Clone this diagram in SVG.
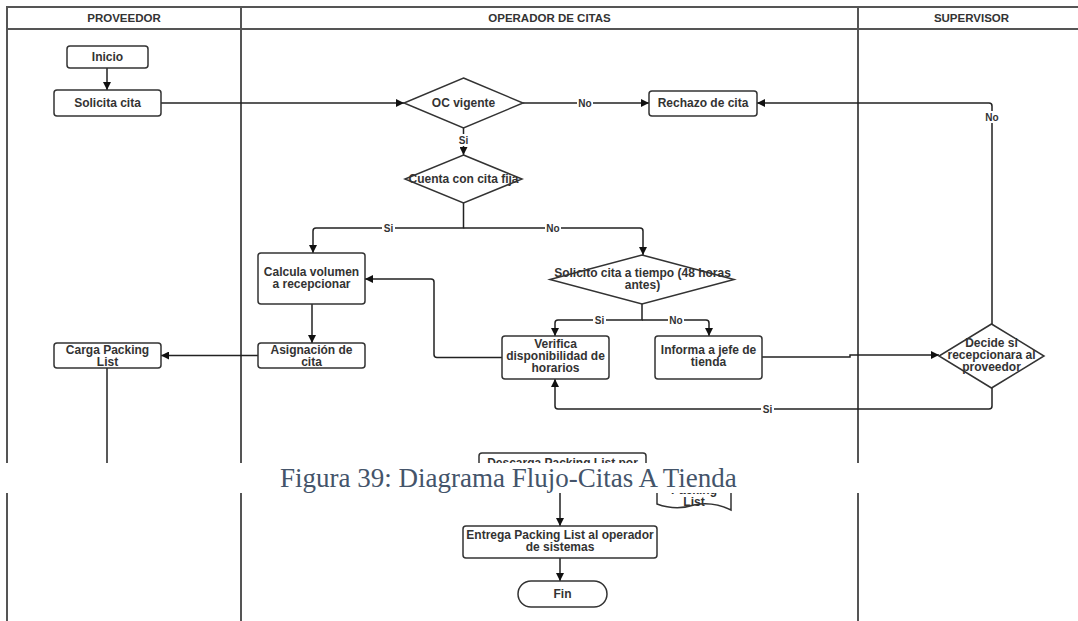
<svg xmlns="http://www.w3.org/2000/svg" width="1078" height="621" viewBox="0 0 1078 621">
  <defs>
    <marker id="arrow" viewBox="0 0 10 10" refX="10" refY="5" markerWidth="8" markerHeight="8" markerUnits="userSpaceOnUse" orient="auto">
      <path d="M0 0 L10 5 L0 10 Z" fill="#111"/>
    </marker>
    <style>
      .lane { fill: none; stroke: #555; stroke-width: 2; }
      .head { font-family: "Liberation Sans", Arial, sans-serif; font-size: 11.5px; font-weight: bold; fill: #333; text-anchor: middle; }
      .box { fill: #fff; stroke: #333; stroke-width: 1.5; }
      .lbl { font-family: "Liberation Sans", Arial, sans-serif; font-size: 12px; font-weight: bold; fill: #333; text-anchor: middle; }
      .edge { fill: none; stroke: #222; stroke-width: 1.5; }
      .tag { font-family: "Liberation Sans", Arial, sans-serif; font-size: 10px; font-weight: bold; fill: #333; text-anchor: middle; }
      .tagbg { fill: #fff; }
      .caption { font-family: "Liberation Serif", "Times New Roman", serif; font-size: 27px; fill: #44546A; }
    </style>
  </defs>

  <rect width="1078" height="621" fill="#fff"/>

  <!-- swimlanes -->
  <g id="lanes">
    <path class="lane" d="M7 621 V7 H1085 V621 M7 29 H1085 M241 7 V621 M858 7 V621"/>
    <text class="head" x="124" y="22">PROVEEDOR</text>
    <text class="head" x="549.5" y="22">OPERADOR DE CITAS</text>
    <text class="head" x="971.5" y="22">SUPERVISOR</text>
  </g>

  <!-- connectors -->
  <g id="connectors">
    <path class="edge" d="M107 68 V90" marker-end="url(#arrow)"/>
    <path class="edge" d="M161 103 H404" marker-end="url(#arrow)"/>
    <path class="edge" d="M523 103 H649" marker-end="url(#arrow)"/>
    <path class="edge" d="M463.5 128 V155" marker-end="url(#arrow)"/>
    <path class="edge" d="M463.5 203 V228 H316 Q313 228 313 231 V253" marker-end="url(#arrow)"/>
    <path class="edge" d="M463.5 228 H640 Q643 228 643 231 V255" marker-end="url(#arrow)"/>
    <path class="edge" d="M312 304 V343" marker-end="url(#arrow)"/>
    <path class="edge" d="M258 355.5 H161" marker-end="url(#arrow)"/>
    <path class="edge" d="M107 368 V475"/>
    <path class="edge" d="M642 304 V320 H558 Q555 320 555 323 V336" marker-end="url(#arrow)"/>
    <path class="edge" d="M642 320 H706 Q709 320 709 323 V336" marker-end="url(#arrow)"/>
    <path class="edge" d="M502 357.5 H437 Q434 357.5 434 354.5 V282 Q434 279 431 279 H365" marker-end="url(#arrow)"/>
    <path class="edge" d="M762 357 H850 V355 H939" marker-end="url(#arrow)"/>
    <path class="edge" d="M992 388 V406 Q992 409 989 409 H558 Q555 409 555 406 V379" marker-end="url(#arrow)"/>
    <path class="edge" d="M992 324 V106 Q992 103 989 103 H757" marker-end="url(#arrow)"/>
    <path class="edge" d="M560 475 V526" marker-end="url(#arrow)"/>
    <path class="edge" d="M560 558 V581" marker-end="url(#arrow)"/>

    <rect class="tagbg" x="577" y="97" width="16" height="12"/>
    <text class="tag" x="585" y="106.5">No</text>
    <rect class="tagbg" x="457" y="134" width="13" height="12"/>
    <text class="tag" x="463.5" y="143.5">Si</text>
    <rect class="tagbg" x="382" y="222" width="13" height="12"/>
    <text class="tag" x="388.5" y="231.5">Si</text>
    <rect class="tagbg" x="545" y="222" width="16" height="12"/>
    <text class="tag" x="553" y="231.5">No</text>
    <rect class="tagbg" x="593" y="314" width="13" height="12"/>
    <text class="tag" x="599.5" y="323.5">Si</text>
    <rect class="tagbg" x="668" y="314" width="16" height="12"/>
    <text class="tag" x="676" y="323.5">No</text>
    <rect class="tagbg" x="761" y="403" width="13" height="12"/>
    <text class="tag" x="767.5" y="412.5">Si</text>
    <rect class="tagbg" x="984" y="111" width="16" height="12"/>
    <text class="tag" x="992" y="120.5">No</text>
  </g>

  <!-- proveedor lane -->
  <g id="inicio">
    <rect class="box" x="67" y="46" width="81" height="22" rx="3"/>
    <text class="lbl" x="107.5" y="61">Inicio</text>
  </g>
  <g id="solicita-cita">
    <rect class="box" x="54" y="90" width="107" height="26" rx="3"/>
    <text class="lbl" x="107.5" y="107">Solicita cita</text>
  </g>
  <g id="carga-packing-list">
    <rect class="box" x="54" y="343" width="107" height="25" rx="3"/>
    <text class="lbl" x="107.5" y="354">Carga Packing</text>
    <text class="lbl" x="107.5" y="366">List</text>
  </g>

  <!-- operador de citas lane -->
  <g id="oc-vigente">
    <path class="box" d="M463.5 78 L523 103 L463.5 128 L404 103 Z"/>
    <text class="lbl" x="463.5" y="107">OC vigente</text>
  </g>
  <g id="rechazo-de-cita">
    <rect class="box" x="649" y="91" width="108" height="25" rx="3"/>
    <text class="lbl" x="703" y="107">Rechazo de cita</text>
  </g>
  <g id="cuenta-con-cita-fija">
    <path class="box" d="M463.5 155 L522 179 L463.5 203 L405 179 Z"/>
    <text class="lbl" x="463.5" y="183" font-size="12.5">Cuenta con cita fija</text>
  </g>
  <g id="calcula-volumen">
    <rect class="box" x="258" y="253" width="107" height="51" rx="3"/>
    <text class="lbl" x="311.5" y="276">Calcula volumen</text>
    <text class="lbl" x="311.5" y="288">a recepcionar</text>
  </g>
  <g id="asignacion-de-cita">
    <rect class="box" x="258" y="343" width="107" height="25" rx="3"/>
    <text class="lbl" x="311.5" y="354">Asignación de</text>
    <text class="lbl" x="311.5" y="366">cita</text>
  </g>
  <g id="solicito-cita-a-tiempo">
    <path class="box" d="M642 255 L734 279.5 L642 304 L550 279.5 Z"/>
    <text class="lbl" x="642.5" y="277">Solicito cita a tiempo (48 horas</text>
    <text class="lbl" x="642.5" y="289">antes)</text>
  </g>
  <g id="verifica-disponibilidad">
    <rect class="box" x="502" y="336" width="107" height="43" rx="3"/>
    <text class="lbl" x="555.5" y="348">Verifica</text>
    <text class="lbl" x="555.5" y="360">disponibilidad de</text>
    <text class="lbl" x="555.5" y="372">horarios</text>
  </g>
  <g id="informa-jefe-tienda">
    <rect class="box" x="655" y="336" width="107" height="43" rx="3"/>
    <text class="lbl" x="708.5" y="354">Informa a jefe de</text>
    <text class="lbl" x="708.5" y="366">tienda</text>
  </g>
  <g id="descarga-packing-list">
    <rect class="box" x="479" y="453" width="167" height="36" rx="3"/>
    <text class="lbl" x="562.5" y="467">Descarga Packing List por</text>
  </g>
  <g id="packing-list-doc">
    <path class="box" d="M657 470 H731 V510 Q712 501 694 505 Q676 511 657 504 Z"/>
    <text class="lbl" x="694" y="494">Packing</text>
    <text class="lbl" x="694" y="506">List</text>
  </g>
  <g id="entrega-packing-list">
    <rect class="box" x="463" y="526" width="194" height="32" rx="3"/>
    <text class="lbl" x="560" y="539">Entrega Packing List al operador</text>
    <text class="lbl" x="560" y="551">de sistemas</text>
  </g>
  <g id="fin">
    <rect class="box" x="518" y="581" width="89" height="26" rx="13"/>
    <text class="lbl" x="562.5" y="598">Fin</text>
  </g>

  <!-- supervisor lane -->
  <g id="decide-recepcion">
    <path class="box" d="M991.5 324 L1044 356 L991.5 388 L939 356 Z"/>
    <text class="lbl" x="991.5" y="347">Decide si</text>
    <text class="lbl" x="991.5" y="359">recepcionara al</text>
    <text class="lbl" x="991.5" y="371">proveedor</text>
  </g>

  <!-- figure caption band -->
  <g id="caption">
    <rect x="0" y="463" width="1078" height="30" fill="#fff"/>
    <text class="caption" x="280" y="487">Figura 39: Diagrama Flujo-Citas A Tienda</text>
  </g>
</svg>
